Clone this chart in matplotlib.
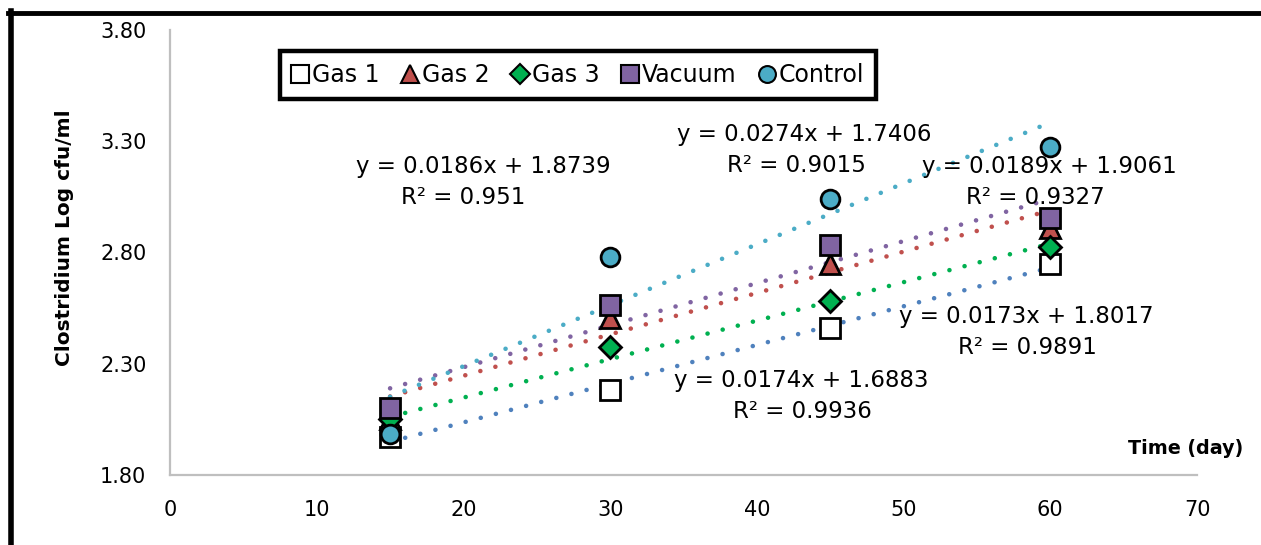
import numpy as np
import matplotlib
matplotlib.use("Agg")
import matplotlib.pyplot as plt
from matplotlib.lines import Line2D

plt.rcParams['font.family'] = ['DejaVu Sans']

days = [15, 30, 45, 60]
series_names = ["Gas 1", "Gas 2", "Gas 3", "Vacuum", "Control"]
gas1 = [1.97, 2.18, 2.46, 2.75]
gas2 = [2.05, 2.505, 2.75, 2.91]
gas3 = [2.05, 2.375, 2.58, 2.825]
vacuum = [2.10, 2.565, 2.835, 2.955]
control = [1.985, 2.78, 3.04, 3.275]
slopes = [0.0174, 0.0186, 0.0173, 0.0189, 0.0274]
intercepts = [1.6883, 1.8739, 1.8017, 1.9061, 1.7406]
r2_labels = ["0.9936", "0.951", "0.9891", "0.9327", "0.9015"]
x_ticks = [0, 10, 20, 30, 40, 50, 60, 70]
y_ticks = [1.80, 2.30, 2.80, 3.30, 3.80]

values = [gas1, gas2, gas3, vacuum, control]
fills = ["white", "#C0504D", "#00B050", "#8064A2", "#4BACC6"]
trend_colors = ["#4F81BD", "#C0504D", "#00B050", "#8064A2", "#4BACC6"]
markers = ["s", "^", "D", "s", "o"]
msizes = [14.5, 15, 11.5, 14.5, 13.5]

W, H = 1261, 545
fig = plt.figure(figsize=(W / 100, H / 100), dpi=100)
ax = fig.add_axes([170 / W, 1 - 475 / H, (1197 - 170) / W, (475 - 30) / H])

# trendlines
xt = np.linspace(days[0], days[-1], 200)
for i in range(5):
    ax.plot(xt, slopes[i] * xt + intercepts[i], color=trend_colors[i], lw=3.3,
            linestyle=(0, (0.01, 3.4)), dash_capstyle='round', zorder=2)

# markers
handles = []
for i in range(5):
    ax.plot(days, values[i], linestyle='none', marker=markers[i], ms=msizes[i],
            mfc=fills[i], mec='black', mew=2, zorder=3 + i)
    handles.append(Line2D([], [], linestyle='none', marker=markers[i], ms=msizes[i] * 0.9,
                          mfc=fills[i], mec='black', mew=1.5, label=series_names[i]))

ax.set_xlim(0, 70)
ax.set_ylim(1.80, 3.80)
ax.set_xticks(x_ticks)
ax.set_xticklabels([str(v) for v in x_ticks])
ax.set_yticks(y_ticks)
ax.set_yticklabels([f"{v:.2f}" for v in y_ticks])
ax.tick_params(length=0, labelsize=15, colors='black')
ax.tick_params(axis='x', pad=18)
ax.tick_params(axis='y', pad=17)
for s in ['top', 'right']:
    ax.spines[s].set_visible(False)
for s in ['left', 'bottom']:
    ax.spines[s].set_color('#BFBFBF')
    ax.spines[s].set_linewidth(1.6)

# equation labels (x center px, y px of line1, line2 x center)
eq_pos = [(801, 381, 802, 412), (483, 166, 463, 197), (1026, 316, 1027, 348),
          (1049, 166, 1035, 197), (804, 134, 796, 165)]
for i in range(5):
    x1, y1, x2, y2 = eq_pos[i]
    fig.text(x1 / W, 1 - y1 / H, f"y = {slopes[i]:.4f}x + {intercepts[i]:.4f}",
             ha='center', va='center', fontsize=16.5)
    fig.text(x2 / W, 1 - y2 / H, f"R² = {r2_labels[i]}",
             ha='center', va='center', fontsize=16.5)

leg = ax.legend(handles=handles, ncol=5, loc='center',
                bbox_to_anchor=((578 - 170) / (1197 - 170), (475 - 75) / (475 - 30)),
                fontsize=17, frameon=True, fancybox=False, handlelength=0.7,
                handletextpad=0.15, columnspacing=0.95, borderpad=0.5,
                framealpha=1)
leg.get_frame().set_edgecolor('black')
leg.get_frame().set_linewidth(3.2)
leg.set_zorder(20)

fig.text(64 / W, 1 - 238 / H, "Clostridium Log cfu/ml", rotation=90, ha='center',
         va='center', fontsize=14.5, fontweight='bold')
fig.text(1243 / W, 1 - 448 / H, "Time (day)", ha='right', va='center',
         fontsize=13.8, fontweight='bold')

# outer frame (partial)
fig.add_artist(Line2D([8 / W, 1.0], [1 - 13 / H, 1 - 13 / H], color='black', lw=3.5,
                      transform=fig.transFigure))
fig.add_artist(Line2D([10.5 / W, 10.5 / W], [1 - 11 / H, 0], color='black', lw=4,
                      transform=fig.transFigure))

fig.savefig("out.png", dpi=100)
